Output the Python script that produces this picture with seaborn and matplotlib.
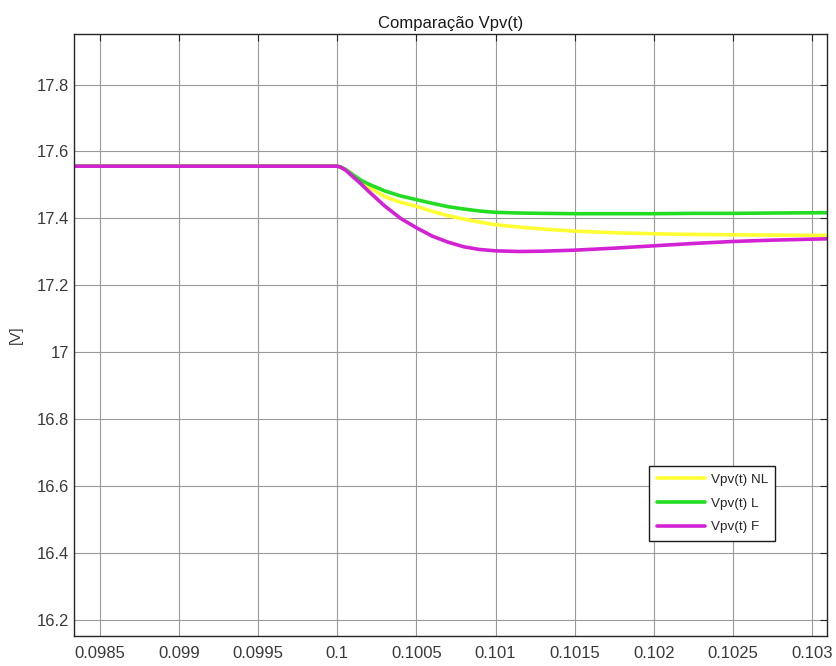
import numpy as np
import pandas as pd
import matplotlib
matplotlib.use("Agg")
import matplotlib.pyplot as plt
from matplotlib.lines import Line2D
import seaborn as sns

# ---- data ----
t = [0.09833, 0.0999, 0.1000, 0.10002, 0.10005, 0.1001, 0.10015, 0.1002, 0.1003,
     0.1004, 0.1005, 0.1006, 0.1007, 0.1008, 0.1009, 0.1010, 0.10115, 0.1013,
     0.1015, 0.10175, 0.1020, 0.10225, 0.1025, 0.10275, 0.1031]

vpv_nl = [17.556, 17.556, 17.556, 17.554, 17.547, 17.528, 17.508, 17.493, 17.465,
          17.448, 17.436, 17.421, 17.408, 17.398, 17.389, 17.381, 17.374, 17.368,
          17.362, 17.357, 17.354, 17.352, 17.351, 17.350, 17.349]

vpv_l = [17.556, 17.556, 17.556, 17.554, 17.547, 17.530, 17.514, 17.502, 17.482,
         17.467, 17.456, 17.445, 17.435, 17.428, 17.422, 17.418, 17.416, 17.415,
         17.414, 17.414, 17.414, 17.415, 17.415, 17.416, 17.417]

vpv_f = [17.556, 17.556, 17.556, 17.553, 17.545, 17.524, 17.503, 17.480, 17.437,
         17.400, 17.372, 17.347, 17.329, 17.315, 17.307, 17.303, 17.301, 17.302,
         17.305, 17.311, 17.318, 17.325, 17.331, 17.335, 17.339]

series_names = ["Vpv(t) NL", "Vpv(t) L", "Vpv(t) F"]
colors = ["#FFFF33", "#22DD22", "#D322D3"]

x_ticks = [0.0985, 0.099, 0.0995, 0.1, 0.1005, 0.101, 0.1015, 0.102, 0.1025, 0.103]
x_tick_labels = ["0.0985", "0.099", "0.0995", "0.1", "0.1005", "0.101", "0.1015",
                 "0.102", "0.1025", "0.103"]
y_ticks = [16.2, 16.4, 16.6, 16.8, 17.0, 17.2, 17.4, 17.6, 17.8]
y_tick_labels = ["16.2", "16.4", "16.6", "16.8", "17", "17.2", "17.4", "17.6", "17.8"]

df = pd.concat([
    pd.DataFrame({"t": t, "v": vals, "serie": name})
    for name, vals in zip(series_names, [vpv_nl, vpv_l, vpv_f])
], ignore_index=True)

sns.set_style("white")
plt.rcParams["font.family"] = ["Liberation Sans", "DejaVu Sans"]

fig = plt.figure(figsize=(8.36, 6.66), dpi=100)
ax = fig.add_axes([74 / 836, 30 / 666, (827 - 74) / 836, (636 - 34) / 666])

sns.lineplot(data=df, x="t", y="v", hue="serie", hue_order=series_names,
             palette=dict(zip(series_names, colors)), linewidth=2.6, ax=ax,
             legend=False, estimator=None, sort=False)

ax.set_xlim(0.098336, 0.103095)
ax.set_ylim(16.152, 17.951)
ax.set_xticks(x_ticks)
ax.set_xticklabels(x_tick_labels)
ax.set_yticks(y_ticks)
ax.set_yticklabels(y_tick_labels)

ax.grid(True, color="#9a9a9a", linewidth=0.8)
ax.set_axisbelow(True)
for s in ax.spines.values():
    s.set_visible(True)
    s.set_color("#262626")
    s.set_linewidth(1.0)

ax.tick_params(direction="in", length=5, width=0.8, top=True, right=True,
               labelsize=12, labelcolor="#3a3a3a", color="#262626", pad=3.5)
ax.tick_params(axis="x", pad=7.5)

ax.set_xlabel("")
ax.set_ylabel("[V]", fontsize=11, color="#3a3a3a", labelpad=10)
ax.set_title("Comparação Vpv(t)", fontsize=12, color="#1a1a1a", pad=4)

handles = [Line2D([], [], color=c, linewidth=2.6) for c in colors]
leg = ax.legend(handles, series_names, loc="lower left",
                bbox_to_anchor=(0.764, 0.158), fontsize=9.7, handlelength=3.6,
                handletextpad=0.4, borderpad=0.55, labelspacing=0.85,
                frameon=True, fancybox=False, borderaxespad=0)
leg.get_frame().set_edgecolor("#1a1a1a")
leg.get_frame().set_linewidth(1.0)
leg.get_frame().set_facecolor("white")
leg.get_frame().set_alpha(1.0)

fig.savefig("out.png", dpi=100)
